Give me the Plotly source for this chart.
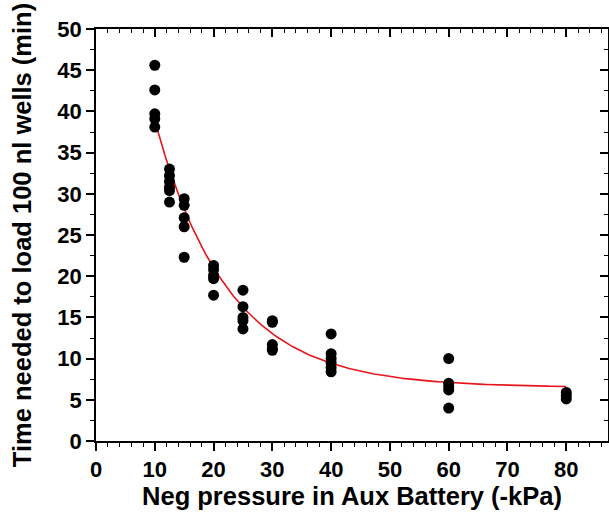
import numpy as np
import plotly.graph_objects as go

# Measured loading times (min) at each negative pressure (-kPa)
pressure = [10, 10, 10, 10, 10,
            12.5, 12.5, 12.5, 12.5, 12.5, 12.5,
            15, 15, 15, 15, 15,
            20, 20, 20, 20, 20,
            25, 25, 25, 25, 25,
            30, 30, 30, 30, 30,
            40, 40, 40, 40, 40, 40,
            60, 60, 60, 60, 60,
            80, 80, 80]
load_time = [45.6, 42.6, 39.7, 39.1, 38.1,
             33.0, 32.2, 31.5, 30.8, 30.4, 29.0,
             29.4, 28.6, 27.1, 26.0, 22.3,
             21.3, 20.8, 20.1, 19.7, 17.7,
             18.3, 16.3, 15.0, 14.6, 13.6,
             14.6, 14.4, 11.7, 11.2, 11.0,
             13.0, 10.6, 10.0, 9.5, 8.9, 8.4,
             10.0, 7.0, 6.6, 6.2, 4.0,
             5.9, 5.5, 5.1]

# Single-exponential decay fit: y = y0 + A * exp(-x / tau)
fit_y0 = 6.5
fit_A = 72.0
fit_tau = 12.5
fit_x = np.linspace(10, 80, 200)
fit_y = fit_y0 + fit_A * np.exp(-fit_x / fit_tau)

FONT = "Liberation Sans, Arial, sans-serif"

fig = go.Figure()
fig.add_trace(go.Scatter(
    x=fit_x, y=fit_y, mode="lines",
    line=dict(color="#e8141c", width=1.6),
    hoverinfo="skip", showlegend=False,
))
fig.add_trace(go.Scatter(
    x=pressure, y=load_time, mode="markers",
    marker=dict(color="black", size=11, line=dict(width=0)),
    showlegend=False,
))
# invisible trace to bring up the mirrored top/right axes
fig.add_trace(go.Scatter(x=[None], y=[None], xaxis="x2", yaxis="y2",
                         showlegend=False, hoverinfo="skip"))

XR = [0, 87.1]
YR = [0, 50]
line_w = 1.6

fig.update_layout(
    width=609, height=514,
    margin=dict(l=96, r=1, t=29, b=73),
    paper_bgcolor="white", plot_bgcolor="white",
    font=dict(family=FONT, color="black"),
    xaxis=dict(
        range=XR, tickvals=list(range(0, 90, 10)),
        ticks="outside", ticklen=8, tickwidth=1.6, tickcolor="black",
        minor=dict(dtick=2, tick0=0, ticks="outside", ticklen=4,
                   tickwidth=1.3, tickcolor="black"),
        showline=True, linecolor="black", linewidth=line_w,
        showgrid=False, zeroline=False,
        tickfont=dict(size=22, family=FONT, weight="bold"),
        title=dict(text="Neg pressure in Aux Battery (-kPa)",
                   font=dict(size=25.5, family=FONT, weight="bold"),
                   standoff=6),
    ),
    yaxis=dict(
        range=YR, tickvals=list(range(0, 55, 5)),
        ticks="outside", ticklen=8, tickwidth=1.6, tickcolor="black",
        minor=dict(dtick=2.5, tick0=0, ticks="outside", ticklen=4,
                   tickwidth=1.3, tickcolor="black"),
        showline=True, linecolor="black", linewidth=line_w,
        showgrid=False, zeroline=False,
        tickfont=dict(size=22, family=FONT, weight="bold"),
        title=dict(text="Time needed to load 100 nl wells (min)",
                   font=dict(size=25.5, family=FONT, weight="bold"),
                   standoff=18),
    ),
    xaxis2=dict(
        overlaying="x", side="top", range=XR,
        tickvals=list(range(0, 90, 10)), showticklabels=False,
        ticks="inside", ticklen=8, tickwidth=1.6, tickcolor="black",
        minor=dict(dtick=2, tick0=0, ticks="inside", ticklen=4,
                   tickwidth=1.3, tickcolor="black"),
        showline=True, linecolor="black", linewidth=line_w,
        showgrid=False, zeroline=False,
    ),
    yaxis2=dict(
        overlaying="y", side="right", range=YR,
        tickvals=list(range(0, 55, 5)), showticklabels=False,
        ticks="inside", ticklen=8, tickwidth=1.6, tickcolor="black",
        minor=dict(dtick=2.5, tick0=0, ticks="inside", ticklen=4,
                   tickwidth=1.3, tickcolor="black"),
        showline=True, linecolor="black", linewidth=line_w,
        showgrid=False, zeroline=False,
    ),
)

fig.write_html("out.html")
